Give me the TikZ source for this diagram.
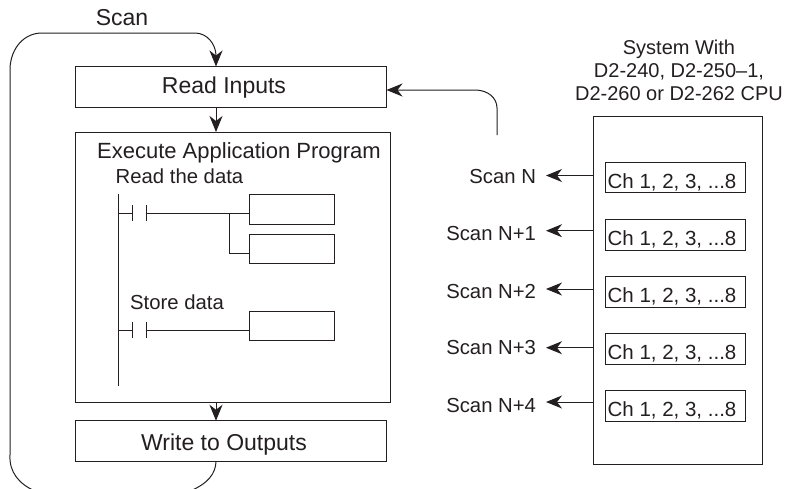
\documentclass[tikz,border=0pt]{standalone}
\usepackage{fontspec}
\setmainfont{Liberation Sans}
\usetikzlibrary{arrows.meta}
\definecolor{ink}{HTML}{231F20}
\tikzset{
  box/.style={draw=ink,line width=1pt,inner sep=0pt,outer sep=0pt,rectangle,text=ink,font=\fontsize{23}{27}\selectfont},
  chbox/.style={box,minimum width=139.5pt,minimum height=30.5pt,text height=21pt,text depth=0pt,font=\fontsize{20.5}{24}\selectfont},
  coil/.style={box,minimum width=84.5pt},
  lab/.style={inner sep=0pt,outer sep=0pt,text=ink,font=\fontsize{20.3}{23}\selectfont},
  scanlab/.style={lab,anchor=east},
  wire/.style={draw=ink,line width=1pt},
  arr/.style={wire,-{Stealth[length=16pt,width=13pt,inset=5pt]}}
}
\begin{document}
\begin{tikzpicture}[x=1pt,y=1pt]
\useasboundingbox (0,0) rectangle (785,-488);
% main blocks
\node[box,minimum width=311pt,minimum height=40.5pt,text height=13pt,text depth=0pt] (read) at (231,-86.75) {Read Inputs\hspace*{14pt}};
\node[box,minimum width=314.5pt,minimum height=270.5pt] (exec) at (232.75,-267.25) {};
\node[box,minimum width=311pt,minimum height=40.5pt,text height=18pt,text depth=0pt] (write) at (231,-441) {Write to Outputs\hspace*{14pt}};
\node[lab,font=\fontsize{22}{26}\selectfont] (title) at (239,-153) {Execute Application Program};
\node[lab,font=\fontsize{23}{27}\selectfont] (scan) at (122,-17.5) {Scan};
\node[lab] (rdata) at (179.5,-176.7) {Read the data};
\node[lab] (sdata) at (177,-302.7) {Store data};
% scan loop
\coordinate (rin) at (216,-66.5);
\coordinate (wout) at (216,-461);
\draw[arr] (wout) .. controls (216,-474) and (207,-484) .. (190,-491)
  -- (35,-491) .. controls (19,-484) and (9,-472) .. (10,-455)
  -- (10,-68) .. controls (11,-48) and (24,-33) .. (42,-33)
  -- (195,-33) .. controls (207,-33) and (216,-44) .. (rin);
\draw[arr] (read.south -| rin) -- (exec.north -| rin);
\draw[arr] (exec.south -| rin) -- (write.north -| rin);
% ladder
\coordinate (railtop) at (118.5,-194);
\coordinate (railbot) at (118.5,-385.5);
\draw[wire] (railtop) -- (railbot);
\node[coil,minimum height=30pt] (c1) at (291.75,-209) {};
\node[coil,minimum height=29.5pt] (c2) at (291.75,-248.75) {};
\node[coil,minimum height=29.5pt] (c3) at (291.75,-325.75) {};
\draw[wire] (118.5,-213) -- (132.5,-213);
\draw[wire] (132.5,-205) -- (132.5,-221);
\draw[wire] (146,-205) -- (146,-221);
\draw[wire] (146,-213) -- (c1.west |- 0,-213);
\draw[wire] (229,-213) -- (229,-253) -- (c2.west |- 0,-253);
\draw[wire] (118.5,-330) -- (132.5,-330);
\draw[wire] (132.5,-322) -- (132.5,-338);
\draw[wire] (146,-322) -- (146,-338);
\draw[wire] (146,-330) -- (c3.west |- 0,-330);
% system
\node[lab,align=center,font=\fontsize{20}{23}\selectfont] (systxt) at (679,-70.5) {System With\\D2-240, D2-250–1,\\D2-260 or D2-262 CPU};
\node[box,minimum width=168.5pt,minimum height=348.5pt] (sys) at (677.75,-290.25) {};
\foreach \n/\y in {1/-177.5,2/-235,3/-292,4/-349,5/-406}{
  \node[chbox] (ch\n) at (675.5,\y) {Ch 1, 2, 3, ...8\hspace*{7pt}};
}
\foreach \n/\y/\ly/\t in {1/-175.5/-177/Scan N,2/-230.7/-234/Scan N+1,3/-289/-292/Scan N+2,4/-347.7/-348/Scan N+3,5/-402/-405.5/Scan N+4}{
  \coordinate (t\n) at (546,\y);
  \node[scanlab] (s\n) at (536,\ly) {\t};
  \draw[arr] (sys.west |- t\n) -- (t\n);
}
\coordinate (fb) at (497,-135);
\draw[arr] (fb) -- (497,-108) .. controls (497,-98) and (488,-90) .. (475,-90) -- (read.east |- 0,-90);
\end{tikzpicture}
\end{document}
